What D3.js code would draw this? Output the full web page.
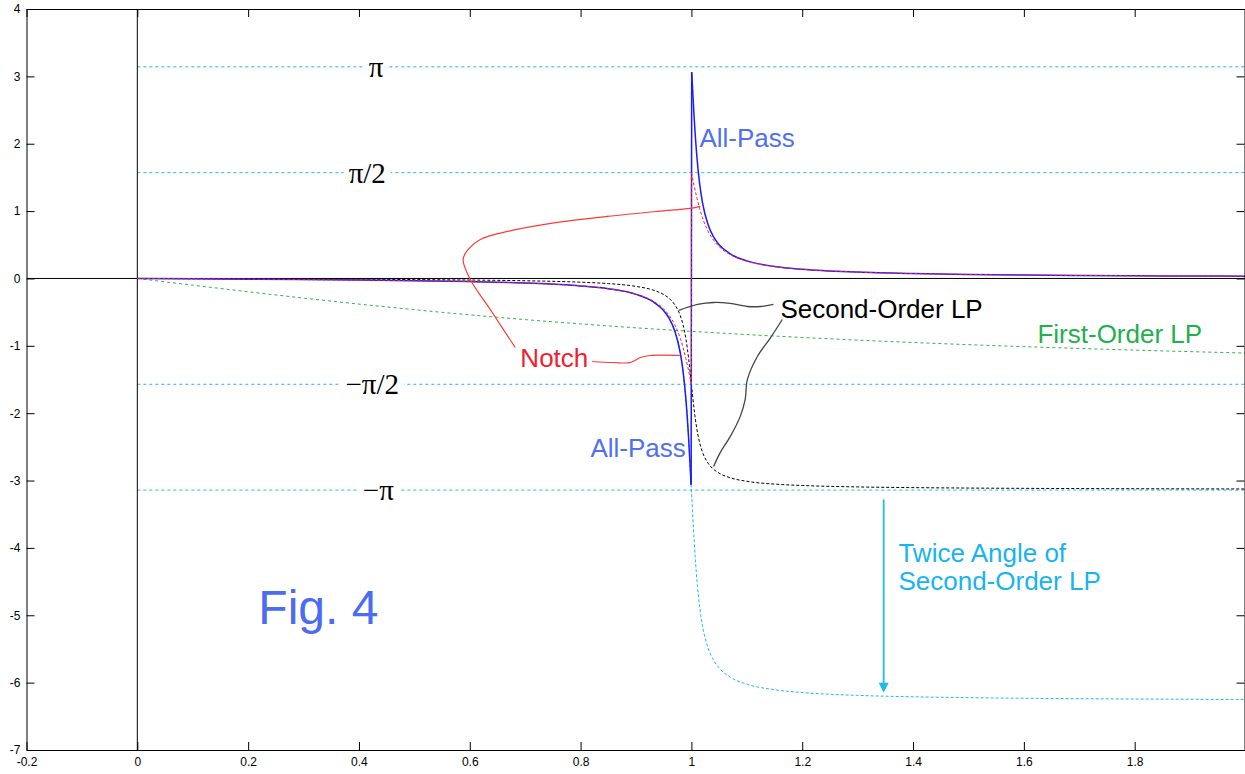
<!DOCTYPE html>
<html><head><meta charset="utf-8">
<script src="https://cdn.jsdelivr.net/npm/d3@7"></script>
<style>body{margin:0;background:#fff;} svg{display:block;}</style>
</head><body><svg id="c" width="1245" height="774"></svg>
<script>
// ---- data ----
const freqLow  = [0,0.1,0.2,0.3,0.4,0.5,0.6,0.7,0.8,0.85,0.9,0.93,0.95,0.96,0.97,0.98,0.985,0.99,0.995,1.0];
const freqHigh = [1.0,1.005,1.01,1.015,1.02,1.03,1.04,1.05,1.07,1.1,1.15,1.2,1.3,1.4,1.5,1.6,1.7,1.8,1.9,2.0];
const lpLow  = [0,-0.00253,-0.00521,-0.00824,-0.01190,-0.01667,-0.02343,-0.03430,-0.05550,-0.07643,-0.11787,-0.17043,-0.23893,-0.29706,-0.38940,-0.55405,-0.69101,-0.89360,-1.18942,-1.57080];
const lpHigh = [-1.57080,-1.95044,-2.24311,-2.44320,-2.57856,-2.74156,-2.83314,-2.89088,-2.95903,-3.01138,-3.05268,-3.07351,-3.09453,-3.10515,-3.11160,-3.11596,-3.11911,-3.12151,-3.12340,-3.12493];
const apFreqLow  = [0,0.1,0.2,0.3,0.4,0.5,0.6,0.7,0.8,0.85,0.9,0.93,0.95,0.96,0.97,0.98,0.985,0.99,0.995,0.9995];
const apFreqHigh = [1.0005,1.005,1.01,1.015,1.02,1.03,1.04,1.05,1.07,1.1,1.15,1.2,1.3,1.4,1.5,1.6,1.7,1.8,1.9,2.0];
const allPassLow  = [0,-0.00505,-0.01042,-0.01648,-0.02381,-0.03333,-0.04687,-0.06861,-0.11100,-0.15286,-0.23574,-0.34086,-0.47786,-0.59412,-0.77880,-1.10810,-1.38202,-1.78720,-2.37884,-3.06160];
const allPassHigh = [3.06164,2.38230,1.79697,1.39679,1.12607,0.80007,0.61691,0.50143,0.36513,0.26043,0.17783,0.13617,0.09413,0.07289,0.05999,0.05127,0.04497,0.04017,0.03639,0.03333];
const twiceLow  = [0,-0.00505,-0.01042,-0.01648,-0.02381,-0.03333,-0.04687,-0.06861,-0.11100,-0.15286,-0.23574,-0.34086,-0.47786,-0.59412,-0.77880,-1.10810,-1.38202,-1.78720,-2.37884,-3.14159];
const twiceHigh = [-3.14159,-3.90089,-4.48622,-4.88640,-5.15712,-5.48312,-5.66628,-5.78176,-5.91806,-6.02276,-6.10536,-6.14702,-6.18906,-6.21030,-6.22320,-6.23192,-6.23822,-6.24302,-6.24680,-6.24986];
const notchLow  = [0,-0.00505,-0.01042,-0.01648,-0.02380,-0.03332,-0.04684,-0.06852,-0.11066,-0.15197,-0.23256,-0.33149,-0.45334,-0.54937,-0.68720,-0.89110,-1.02702,-1.18855,-1.37292,-1.57080];
const notchHigh = [1.57080,1.37388,1.19200,1.03363,0.90085,0.70196,0.56735,0.47336,0.35370,0.25615,0.17644,0.13553,0.09392,0.07279,0.05993,0.05124,0.04494,0.04016,0.03638,0.03332];
const firstOrderX  = [0,0.1,0.2,0.3,0.4,0.5,0.6,0.7,0.8,0.9,1.0,1.1,1.2,1.3,1.4,1.5,1.6,1.7,1.8,1.9,2.0];
const firstOrderLP = [0,-0.09967,-0.19740,-0.29146,-0.38051,-0.46365,-0.54042,-0.61073,-0.67474,-0.73282,-0.78540,-0.83298,-0.87606,-0.91510,-0.95055,-0.98279,-1.01220,-1.03907,-1.06370,-1.08632,-1.10715];

const refValues = [Math.PI, Math.PI/2, -Math.PI/2, -Math.PI];
const refLabels = ["π", "π/2", "−π/2", "−π"];
const refLabelX = [0.431, 0.415, 0.424, 0.435];

const xTicks = [-0.2,0,0.2,0.4,0.6,0.8,1,1.2,1.4,1.6,1.8];
const yTicks = [-7,-6,-5,-4,-3,-2,-1,0,1,2,3,4];

// leader curves (data coords)
const notchLeadUpX = [0.682,0.637,0.601,0.588,0.597,0.619,0.668,0.758,0.848,0.939,0.998,1.016];
const notchLeadUpY = [-1.025,-0.461,-0.015,0.282,0.431,0.579,0.698,0.832,0.921,0.996,1.040,1.070];
const notchLeadLoX = [0.821,0.859,0.890,0.908,0.926,0.980];
const notchLeadLoY = [-1.233,-1.248,-1.248,-1.174,-1.144,-1.144];
const lpLeadUpX = [1.148,1.125,1.101,1.070,1.040,1.011,0.977];
const lpLeadUpY = [-0.386,-0.416,-0.416,-0.371,-0.357,-0.386,-0.475];
const lpLeadLoX = [1.164,1.143,1.119,1.101,1.097,1.088,1.070,1.052,1.040];
const lpLeadLoY = [-0.609,-0.877,-1.159,-1.501,-1.798,-2.051,-2.348,-2.585,-2.793];
const arrowX = [1.347, 1.347];
const arrowY = [-3.28, -6.15];

// text annotations: [text, x, y(baseline), colour, size]
const notes = [
  ["All-Pass", 1.0144, 1.952, "#5070f0", 26],
  ["All-Pass", 0.8177, -2.650, "#5070f0", 26],
  ["Second-Order LP", 1.1606, -0.586, "#000000", 26],
  ["First-Order LP", 1.6245, -0.958, "#22b04a", 26],
  ["Notch", 0.6913, -1.314, "#f02030", 26],
  ["Twice Angle of", 1.3736, -4.209, "#18b4ee", 26],
  ["Second-Order LP", 1.3736, -4.625, "#18b4ee", 26],
  ["Fig. 4", 0.2184, -5.129, "#4a6cf0", 48]
];

// ---- drawing ----
const svg = d3.select("#c");
const x = d3.scaleLinear().domain([-0.2, 2.0]).range([26.5, 1245.5]);
const y = d3.scaleLinear().domain([-7, 4]).range([750, 9]);
const sans = "'Liberation Sans', Arial, sans-serif";

svg.append("defs").append("clipPath").attr("id","plot")
  .append("rect").attr("x",x(-0.2)).attr("y",y(4)).attr("width",x(2)-x(-0.2)).attr("height",y(-7)-y(4));

const g = svg.append("g").attr("clip-path","url(#plot)");

const zip = (xs, ys) => xs.map((v,i)=>[v, ys[i]]);
const smooth = d3.line().x(d=>x(d[0])).y(d=>y(d[1])).curve(d3.curveMonotoneX);
const straight = d3.line().x(d=>x(d[0])).y(d=>y(d[1]));
const basis = d3.line().x(d=>x(d[0])).y(d=>y(d[1])).curve(d3.curveCatmullRom.alpha(0.5));

refValues.forEach(v=>{
  g.append("line").attr("x1",x(0)).attr("x2",x(2)).attr("y1",y(v)).attr("y2",y(v))
   .attr("stroke","#22b8ee").attr("stroke-width",1).attr("stroke-dasharray","3,3");
});

g.append("line").attr("x1",x(-0.2)).attr("x2",x(2)).attr("y1",y(0)).attr("y2",y(0)).attr("stroke","#000").attr("stroke-width",1);
g.append("line").attr("x1",x(0)).attr("x2",x(0)).attr("y1",y(4)).attr("y2",y(-7)).attr("stroke","#000").attr("stroke-width",1);

function path(gen, pts, stroke, width, dash){
  const p = g.append("path").attr("d", gen(pts)).attr("fill","none")
    .attr("stroke", stroke).attr("stroke-width", width);
  if (dash) p.attr("stroke-dasharray", dash);
  return p;
}

path(smooth, zip(firstOrderX, firstOrderLP), "#2db34a", 1, "3,3");
path(smooth, zip(freqLow.concat(freqHigh.slice(1)), twiceLow.concat(twiceHigh.slice(1))), "#22b8ee", 1, "3,2");
path(smooth, zip(freqLow.concat(freqHigh.slice(1)), lpLow.concat(lpHigh.slice(1))), "#000", 1, "3,2");
path(smooth, zip(apFreqLow, allPassLow), "#1a1aff", 1.5);
path(straight, [[apFreqLow[apFreqLow.length-1], allPassLow[allPassLow.length-1]],[apFreqHigh[0], allPassHigh[0]]], "#1a1aff", 1.5);
path(smooth, zip(apFreqHigh, allPassHigh), "#1a1aff", 1.5);
path(smooth, zip(freqLow, notchLow), "#ff2020", 1, "3,2");
path(straight, [[freqLow[freqLow.length-1], notchLow[notchLow.length-1]],[freqHigh[0], notchHigh[0]]], "#ff2020", 1, "3,2");
path(smooth, zip(freqHigh, notchHigh), "#ff2020", 1, "3,2");

path(basis, zip(notchLeadUpX, notchLeadUpY), "#ff3a3a", 1.2);
path(basis, zip(notchLeadLoX, notchLeadLoY), "#ff3a3a", 1.2);
path(basis, zip(lpLeadUpX, lpLeadUpY), "#444", 1.3);
path(basis, zip(lpLeadLoX, lpLeadLoY), "#444", 1.3);

const ax = x(arrowX[0]), ay0 = y(arrowY[0]), ay1 = y(arrowY[1]);
g.append("line").attr("x1",ax).attr("x2",ax).attr("y1",ay0).attr("y2",ay1-8)
  .attr("stroke","#22b8ee").attr("stroke-width",1.8);
g.append("path").attr("d",`M${ax-5},${ay1-10}L${ax+5},${ay1-10}L${ax},${ay1}Z`).attr("fill","#22b8ee");

refValues.forEach((v,i)=>{
  const t = svg.append("text").attr("x",x(refLabelX[i])).attr("y",y(v)).attr("dy","0.35em")
    .attr("text-anchor","middle").attr("font-family","'Liberation Serif','Times New Roman',serif")
    .attr("font-size",29).attr("fill","#000").text(refLabels[i]);
  const b = t.node().getBBox();
  svg.insert("rect", "text").attr("x",b.x-5).attr("y",y(v)-3).attr("width",b.width+10).attr("height",6).attr("fill","#fff");
});

notes.forEach(n=>{
  svg.append("text").attr("x",x(n[1])).attr("y",y(n[2])).attr("font-family",sans)
    .attr("font-size",n[4]).attr("fill",n[3]).text(n[0]);
});

const fmt = d => String(+d.toFixed(1));
const axL = svg.append("g").attr("transform",`translate(${x(-0.2)},0)`)
  .call(d3.axisLeft(y).tickValues(yTicks).tickFormat(fmt).tickSizeInner(-8).tickSizeOuter(0).tickPadding(6));
const axB = svg.append("g").attr("transform",`translate(0,${y(-7)})`)
  .call(d3.axisBottom(x).tickValues(xTicks).tickFormat(fmt).tickSizeInner(-8).tickSizeOuter(0).tickPadding(7));
svg.append("g").attr("transform",`translate(0,${y(4)})`)
  .call(d3.axisTop(x).tickValues(xTicks).tickFormat("").tickSizeInner(-8).tickSizeOuter(0));
svg.append("g").attr("transform",`translate(${x(2)-1},0)`)
  .call(d3.axisRight(y).tickValues(yTicks).tickFormat("").tickSizeInner(-8).tickSizeOuter(0));
svg.selectAll(".domain").attr("stroke","#000");
svg.selectAll(".tick line").attr("stroke","#000");
[axL, axB].forEach(a=>a.selectAll("text").attr("font-family",sans).attr("font-size",12).attr("fill","#000"));
</script></body></html>
